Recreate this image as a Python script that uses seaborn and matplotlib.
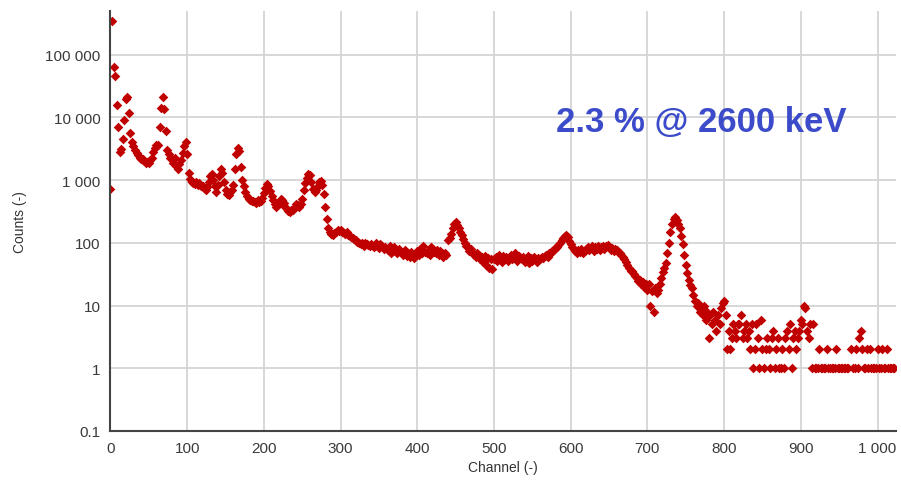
import matplotlib
matplotlib.use("Agg")
import matplotlib.pyplot as plt
import matplotlib.ticker as mticker
import numpy as np
import pandas as pd
import seaborn as sns

# spectrum, one value every 2 channels
channel_step = 2
counts = [
    730, 350000, 65000, 46000, 16000, 7000, 2800, 3100, 4600, 9000,      # 0
    20000, 21500, 12000, 5600, 4000, 3500, 3000, 2700, 2500, 2300,       # 20
    2200, 2150, 2000, 1900, 1950, 1900, 2100, 2300, 2800, 3300,          # 40
    3600, 3700, 7000, 14000, 21000, 13500, 6200, 3000, 2600, 2300,       # 60
    2200, 1900, 2300, 1700, 1500, 1800, 2100, 2700, 3500, 4000,          # 80
    2600, 1300, 1050, 950, 900, 880, 920, 850, 900, 820,                 # 100
    820, 740, 690, 780, 950, 1150, 1270, 1000, 800, 660,                 # 120
    850, 1150, 1500, 1300, 950, 700, 600, 580, 650, 700,                 # 140
    850, 1500, 2600, 3300, 2900, 1600, 1000, 800, 650, 560,              # 160
    500, 480, 470, 460, 450, 440, 480, 450, 470, 520,                    # 180
    620, 750, 880, 800, 680, 560, 480, 420, 380, 400,                    # 200
    450, 500, 480, 430, 380, 350, 320, 310, 330, 340,                    # 220
    380, 420, 400, 380, 420, 500, 700, 900, 1100, 1250,                  # 240
    1200, 950, 720, 640, 700, 820, 940, 960, 850, 600,                   # 260
    380, 240, 170, 150, 140, 135, 145, 150, 160, 155,                    # 280
    160, 150, 145, 140, 150, 135, 130, 125, 120, 115,                    # 300
    110, 105, 100, 95, 98, 90, 100, 95, 92, 88,                          # 320
    95, 90, 85, 100, 88, 82, 95, 90, 80, 85,                             # 340
    80, 78, 90, 70, 75, 85, 72, 68, 80, 74,                              # 360
    70, 65, 78, 62, 68, 60, 72, 65, 58, 70,                              # 380
    75, 65, 80, 70, 90, 72, 68, 75, 65, 85,                              # 400
    80, 72, 70, 78, 65, 75, 68, 60, 70, 65,                              # 420
    110, 120, 140, 170, 200, 215, 195, 175, 150, 135,                    # 440
    115, 100, 90, 85, 75, 80, 70, 65, 60, 68,                            # 460
    65, 55, 60, 50, 62, 45, 58, 40, 55, 38,                              # 480
    55, 60, 52, 65, 58, 50, 62, 55, 60, 52,                              # 500
    58, 65, 55, 60, 68, 52, 62, 58, 55, 60,                              # 520
    50, 55, 62, 48, 58, 52, 60, 55, 50, 58,                              # 540
    55, 60, 58, 62, 65, 60, 68, 70, 75, 80,                              # 560
    80, 85, 92, 100, 110, 120, 128, 132, 122, 108,                       # 580
    95, 85, 80, 75, 70, 78, 72, 80, 68, 75,                              # 600
    80, 85, 78, 82, 90, 75, 85, 80, 88, 78,                              # 620
    85, 90, 80, 88, 92, 85, 78, 82, 75, 80,                              # 640
    78, 72, 70, 65, 60, 55, 50, 45, 40, 36,                              # 660
    35, 32, 30, 28, 25, 26, 22, 24, 20, 22,                              # 680
    18, 22, 10, 17, 8, 19, 16, 18, 22, 28,                               # 700
    34, 40, 48, 70, 100, 150, 200, 240, 260, 230,                        # 720
    200, 170, 130, 95, 65, 45, 33, 26, 21, 19,                           # 740
    15, 12, 10, 11, 8, 9, 7, 10, 6, 8,                                   # 760
    3, 7, 5, 8, 6, 4, 7, 5, 9, 11,                                       # 780
    12, 7, 2, 4, 2, 3, 5, 4, 3, 5,                                       # 800
    5, 7, 3, 4, 5, 3, 4, 2, 5, 1,                                        # 820
    2, 5, 3, 1, 6, 2, 1, 2, 3, 2,                                        # 840
    1, 3, 4, 1, 2, 3, 1, 1, 2, 1,                                        # 860
    3, 4, 2, 5, 1, 3, 4, 2, 3, 4,                                        # 880
    6, 5, 10, 9, 4, 3, 5, 1, 5, 1,                                       # 900
    1, 1, 2, 1, 1, 1, 1, 2, 1, 1,                                        # 920
    1, 1, 1, 2, 1, 1, 1, 1, 1, 1,                                        # 940
    1, 1, 0, 2, 1, 1, 2, 1, 3, 4,                                        # 960
    2, 1, 1, 2, 1, 2, 1, 1, 1, 1,                                        # 980
    2, 1, 1, 2, 1, 1, 2, 1, 1, 1,                                        # 1000
    1, 1,                                                                # 1020
]
channels = np.arange(len(counts)) * channel_step

x_ticks = [0, 100, 200, 300, 400, 500, 600, 700, 800, 900, 1000]
x_tick_labels = ["0", "100", "200", "300", "400", "500", "600", "700", "800", "900", "1 000"]
y_ticks = [0.1, 1, 10, 100, 1000, 10000, 100000]
y_tick_labels = ["0.1", "1", "10", "100", "1 000", "10 000", "100 000"]
annotation = "2.3 % @ 2600 keV"

sns.set_style("white")
plt.rcParams["font.family"] = ["Liberation Sans", "DejaVu Sans"]

df = pd.DataFrame({"channel": channels, "counts": counts})
df = df[df["counts"] > 0]

fig = plt.figure(figsize=(9.01, 4.81), dpi=100)
ax = fig.add_axes([0.1226, 0.1019, 0.8718, 0.8732])

sns.scatterplot(
    data=df,
    x="channel",
    y="counts",
    marker="D",
    s=24,
    color="#c00000",
    linewidth=0,
    legend=False,
    ax=ax,
)

ax.set_yscale("log")
ax.set_xlim(0, 1024)
ax.set_ylim(0.1, 5e5)
ax.set_xticks(x_ticks)
ax.set_xticklabels(x_tick_labels)
ax.set_yticks(y_ticks)
ax.set_yticklabels(y_tick_labels)
ax.xaxis.set_minor_locator(mticker.MultipleLocator(25))
ax.yaxis.set_minor_locator(mticker.LogLocator(base=10, subs=(2, 3, 5)))
ax.yaxis.set_minor_formatter(mticker.NullFormatter())

ax.grid(True, which="major", color="#d4d4d4", linewidth=1.3)
ax.set_axisbelow(True)
for side in ("top", "right"):
    ax.spines[side].set_visible(False)
for side in ("left", "bottom"):
    ax.spines[side].set_color("#444444")
    ax.spines[side].set_linewidth(1.5)

ax.tick_params(axis="both", which="major", direction="out", length=4, width=1,
               color="#444444", labelsize=11, labelcolor="#3a3a3a", pad=3)
ax.tick_params(axis="both", which="minor", direction="out", length=2, width=0.8,
               color="#444444")

ax.set_xlabel("Channel (-)", fontsize=10, color="#333333", labelpad=4)
ax.set_ylabel("Counts (-)", fontsize=10, color="#333333", labelpad=13)

ax.text(0.567, 0.738, annotation, transform=ax.transAxes, ha="left", va="center",
        fontsize=25, fontweight="bold", color="#3b4bc9")

fig.savefig("out.png", dpi=100)
